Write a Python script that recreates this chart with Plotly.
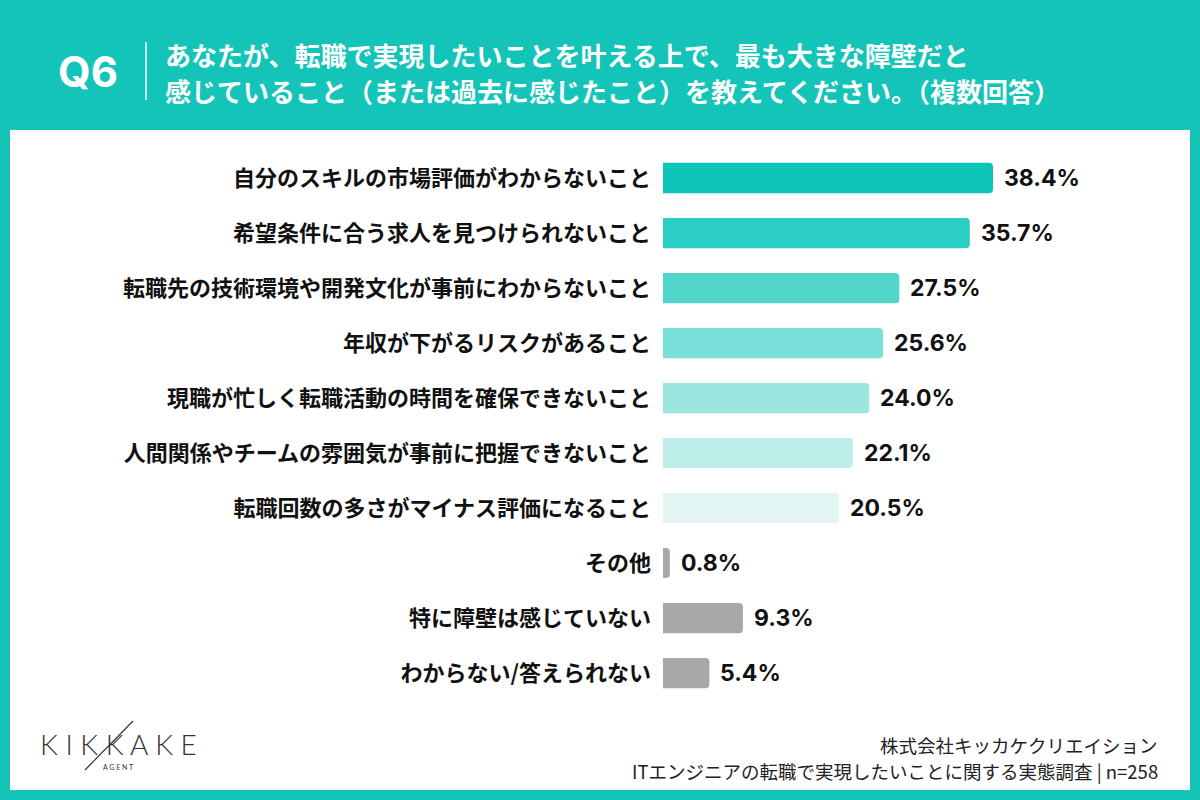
import plotly.graph_objects as go

categories = [
    "自分のスキルの市場評価がわからないこと",
    "希望条件に合う求人を見つけられないこと",
    "転職先の技術環境や開発文化が事前にわからないこと",
    "年収が下がるリスクがあること",
    "現職が忙しく転職活動の時間を確保できないこと",
    "人間関係やチームの雰囲気が事前に把握できないこと",
    "転職回数の多さがマイナス評価になること",
    "その他",
    "特に障壁は感じていない",
    "わからない/答えられない",
]
values = [38.4, 35.7, 27.5, 25.6, 24.0, 22.1, 20.5, 0.8, 9.3, 5.4]
bar_colors = ["#0cc4b8", "#2ccec3", "#52d6cc", "#78e0d8", "#9be7e0",
              "#bdeee9", "#e2f5f3", "#a8a8a8", "#a8a8a8", "#a8a8a8"]

title_lines = ["あなたが、転職で実現したいことを叶える上で、最も大きな障壁だと",
               "感じていること（または過去に感じたこと）を教えてください。（複数回答）"]
footer_lines = ["株式会社キッカケクリエイション",
                "ITエンジニアの転職で実現したいことに関する実態調査 | n=258"]

TEAL = "#14c4b8"
JP = "Noto Sans CJK JP"
W, H = 1200, 800

fig = go.Figure(go.Bar(
    x=values, y=categories, orientation="h",
    marker=dict(color=bar_colors, cornerradius=4, line=dict(width=0)),
    width=0.55, hoverinfo="skip",
))

def px(x): return x / W
def py(y): return 1 - y / H

annotations = []
for c, v in zip(categories, values):
    annotations.append(dict(
        text=f"{v:.1f}%", x=v, y=c, xref="x", yref="y", xanchor="left",
        yanchor="middle", xshift=9, showarrow=False,
        font=dict(family="Inter, Noto Sans", size=23, color="#111", weight="bold")))

annotations += [
    dict(text="Q6", xref="paper", yref="paper", x=px(88), y=py(71),
         xanchor="center", yanchor="middle", showarrow=False,
         font=dict(family="Inter, Noto Sans", size=42, color="white", weight="bold")),
    dict(text=title_lines[0], xref="paper", yref="paper", x=px(163), y=py(55),
         xanchor="left", yanchor="middle", showarrow=False,
         font=dict(family=JP, size=26, color="white", weight="bold")),
    dict(text=title_lines[1], xref="paper", yref="paper", x=px(163), y=py(90),
         xanchor="left", yanchor="middle", showarrow=False,
         font=dict(family=JP, size=26, color="white", weight="bold")),
    dict(text=footer_lines[0], xref="paper", yref="paper", x=px(1160), y=py(745),
         xanchor="right", yanchor="middle", showarrow=False,
         font=dict(family=JP, size=18.5, color="#222")),
    dict(text=footer_lines[1], xref="paper", yref="paper", x=px(1160), y=py(771),
         xanchor="right", yanchor="middle", showarrow=False,
         font=dict(family=JP, size=18.5, color="#222")),
    dict(text="K I K K A K E", xref="paper", yref="paper", x=px(38), y=py(744),
         xanchor="left", yanchor="middle", showarrow=False,
         font=dict(family="Lato, Noto Sans", size=28, color="#333", weight=300)),
    dict(text="A G E N T", xref="paper", yref="paper", x=px(118), y=py(767),
         xanchor="center", yanchor="middle", showarrow=False,
         font=dict(family="Lato, Noto Sans", size=7, color="#333")),
]

fig.update_layout(
    width=W, height=H, margin=dict(l=0, r=0, t=0, b=0),
    paper_bgcolor=TEAL, plot_bgcolor="rgba(0,0,0,0)",
    showlegend=False,
    xaxis=dict(domain=[px(663), px(1100)], range=[0, (1100 - 663) / 8.594],
               visible=False, fixedrange=True),
    yaxis=dict(domain=[py(700.5), py(150.5)], range=[9.5, -0.5],
               showgrid=False, zeroline=False, showline=False, ticks="",
               ticklabelstandoff=11,
               tickfont=dict(family=JP, size=22, color="#111", weight="bold")),
    shapes=[
        dict(type="rect", xref="paper", yref="paper", x0=px(10), x1=px(1190),
             y0=py(790), y1=py(130), fillcolor="white", line=dict(width=0), layer="below"),
        dict(type="line", xref="paper", yref="paper", x0=px(146), x1=px(146),
             y0=py(100), y1=py(42), line=dict(color="white", width=1.5)),
        dict(type="line", xref="paper", yref="paper", x0=px(85), x1=px(133),
             y0=py(770), y1=py(721), line=dict(color="#333", width=1.2)),
    ],
    annotations=annotations,
)

fig.write_html("out.html")
